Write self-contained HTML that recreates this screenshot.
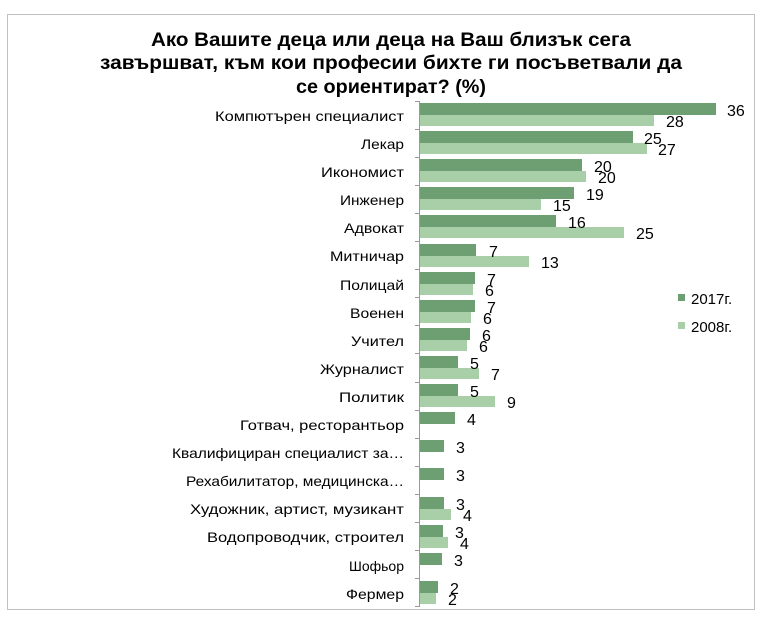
<!DOCTYPE html>
<html><head><meta charset="utf-8"><style>
html,body{margin:0;padding:0;background:#fff;}
svg{display:block;}
text{font-family:"Liberation Sans","DejaVu Sans",sans-serif;fill:#000;}
.c{font-size:14px;text-anchor:end;}
.v{font-size:16px;}
.lg{font-size:15px;}
.t{font-size:19px;font-weight:bold;text-anchor:middle;}
.d{fill:#6e9f72;}
.l{fill:#a9cfa8;}
</style></head><body>
<svg width="768" height="619" viewBox="0 0 768 619">
<rect x="7.5" y="14.5" width="747" height="595" fill="#fff" stroke="#c0c0c0"/>
<text class="t" x="391" y="46" textLength="480" lengthAdjust="spacingAndGlyphs">Ако Вашите деца или деца на Ваш близък сега</text>
<text class="t" x="391" y="69" textLength="582" lengthAdjust="spacingAndGlyphs">завършват, към кои професии бихте ги посъветвали да</text>
<text class="t" x="391" y="93" textLength="190" lengthAdjust="spacingAndGlyphs">се ориентират? (%)</text>

<line x1="419.5" y1="101" x2="419.5" y2="607" stroke="#999"/>
<g stroke="#999">
<line x1="415" y1="101.5" x2="419" y2="101.5"/><line x1="415" y1="129.5" x2="419" y2="129.5"/><line x1="415" y1="157.5" x2="419" y2="157.5"/><line x1="415" y1="185.5" x2="419" y2="185.5"/><line x1="415" y1="213.5" x2="419" y2="213.5"/><line x1="415" y1="241.5" x2="419" y2="241.5"/><line x1="415" y1="269.5" x2="419" y2="269.5"/><line x1="415" y1="297.5" x2="419" y2="297.5"/><line x1="415" y1="325.5" x2="419" y2="325.5"/><line x1="415" y1="353.5" x2="419" y2="353.5"/><line x1="415" y1="382.5" x2="419" y2="382.5"/><line x1="415" y1="410.5" x2="419" y2="410.5"/><line x1="415" y1="438.5" x2="419" y2="438.5"/><line x1="415" y1="466.5" x2="419" y2="466.5"/><line x1="415" y1="494.5" x2="419" y2="494.5"/><line x1="415" y1="522.5" x2="419" y2="522.5"/><line x1="415" y1="550.5" x2="419" y2="550.5"/><line x1="415" y1="578.5" x2="419" y2="578.5"/><line x1="415" y1="606.5" x2="419" y2="606.5"/>
</g>

<rect class="d" x="420" y="103" width="296" height="12"/><rect class="l" x="420" y="115" width="234" height="11"/>
<rect class="d" x="420" y="131" width="213" height="12"/><rect class="l" x="420" y="143" width="227" height="11"/>
<rect class="d" x="420" y="159" width="162" height="12"/><rect class="l" x="420" y="171" width="166" height="11"/>
<rect class="d" x="420" y="187" width="154" height="12"/><rect class="l" x="420" y="199" width="121" height="11"/>
<rect class="d" x="420" y="215" width="136" height="12"/><rect class="l" x="420" y="227" width="204" height="11"/>
<rect class="d" x="420" y="244" width="56" height="12"/><rect class="l" x="420" y="256" width="109" height="11"/>
<rect class="d" x="420" y="272" width="55" height="12"/><rect class="l" x="420" y="284" width="53" height="11"/>
<rect class="d" x="420" y="300" width="55" height="12"/><rect class="l" x="420" y="312" width="51" height="11"/>
<rect class="d" x="420" y="328" width="50" height="12"/><rect class="l" x="420" y="340" width="47" height="11"/>
<rect class="d" x="420" y="356" width="38" height="12"/><rect class="l" x="420" y="368" width="59" height="11"/>
<rect class="d" x="420" y="384" width="38" height="12"/><rect class="l" x="420" y="396" width="75" height="11"/>
<rect class="d" x="420" y="412" width="35" height="12"/>
<rect class="d" x="420" y="440" width="24" height="12"/>
<rect class="d" x="420" y="468" width="24" height="12"/>
<rect class="d" x="420" y="497" width="24" height="12"/><rect class="l" x="420" y="509" width="31" height="11"/>
<rect class="d" x="420" y="525" width="23" height="12"/><rect class="l" x="420" y="537" width="28" height="11"/>
<rect class="d" x="420" y="553" width="22" height="12"/>
<rect class="d" x="420" y="581" width="18" height="12"/><rect class="l" x="420" y="593" width="16" height="11"/>

<g class="v">
<text x="727" y="116">36</text><text x="666" y="127">28</text>
<text x="644" y="144">25</text><text x="658" y="155">27</text>
<text x="594" y="172">20</text><text x="598" y="183">20</text>
<text x="586" y="200">19</text><text x="553" y="211">15</text>
<text x="568" y="228">16</text><text x="636" y="239">25</text>
<text x="489" y="257">7</text><text x="541" y="268">13</text>
<text x="487" y="285">7</text><text x="485" y="296">6</text>
<text x="487" y="313">7</text><text x="483" y="324">6</text>
<text x="482" y="341">6</text><text x="479" y="352">6</text>
<text x="470" y="369">5</text><text x="491" y="380">7</text>
<text x="470" y="397">5</text><text x="507" y="408">9</text>
<text x="467" y="425">4</text>
<text x="456" y="453">3</text>
<text x="456" y="481">3</text>
<text x="456" y="510">3</text><text x="463" y="521">4</text>
<text x="455" y="538">3</text><text x="460" y="549">4</text>
<text x="454" y="566">3</text>
<text x="450" y="594">2</text><text x="448" y="605">2</text>
</g>

<g class="c">
<text x="404" y="121" textLength="189" lengthAdjust="spacingAndGlyphs">Компютърен  специалист</text>
<text x="404" y="149" textLength="43" lengthAdjust="spacingAndGlyphs">Лекар</text>
<text x="404" y="177" textLength="83" lengthAdjust="spacingAndGlyphs">Икономист</text>
<text x="404" y="205" textLength="64" lengthAdjust="spacingAndGlyphs">Инженер</text>
<text x="404" y="233" textLength="60" lengthAdjust="spacingAndGlyphs">Адвокат</text>
<text x="404" y="261" textLength="74" lengthAdjust="spacingAndGlyphs">Митничар</text>
<text x="404" y="290" textLength="64" lengthAdjust="spacingAndGlyphs">Полицай</text>
<text x="404" y="318" textLength="54" lengthAdjust="spacingAndGlyphs">Военен</text>
<text x="404" y="346" textLength="53" lengthAdjust="spacingAndGlyphs">Учител</text>
<text x="404" y="374" textLength="84" lengthAdjust="spacingAndGlyphs">Журналист</text>
<text x="404" y="402" textLength="65" lengthAdjust="spacingAndGlyphs">Политик</text>
<text x="404" y="430" textLength="164" lengthAdjust="spacingAndGlyphs">Готвач,  ресторантьор</text>
<text x="404" y="458" textLength="232" lengthAdjust="spacingAndGlyphs">Квалифициран  специалист за…</text>
<text x="404" y="486" textLength="218" lengthAdjust="spacingAndGlyphs">Рехабилитатор,  медицинска…</text>
<text x="404" y="514" textLength="214" lengthAdjust="spacingAndGlyphs">Художник,  артист,  музикант</text>
<text x="404" y="542" textLength="197" lengthAdjust="spacingAndGlyphs">Водопроводчик, строител</text>
<text x="404" y="571">Шофьор</text>
<text x="404" y="599" textLength="58" lengthAdjust="spacingAndGlyphs">Фермер</text>
</g>

<rect class="d" x="678" y="294" width="7" height="7"/>
<text class="lg" x="691" y="304">2017г.</text>
<rect class="l" x="678" y="322" width="7" height="7"/>
<text class="lg" x="691" y="332">2008г.</text>
</svg>
</body></html>
